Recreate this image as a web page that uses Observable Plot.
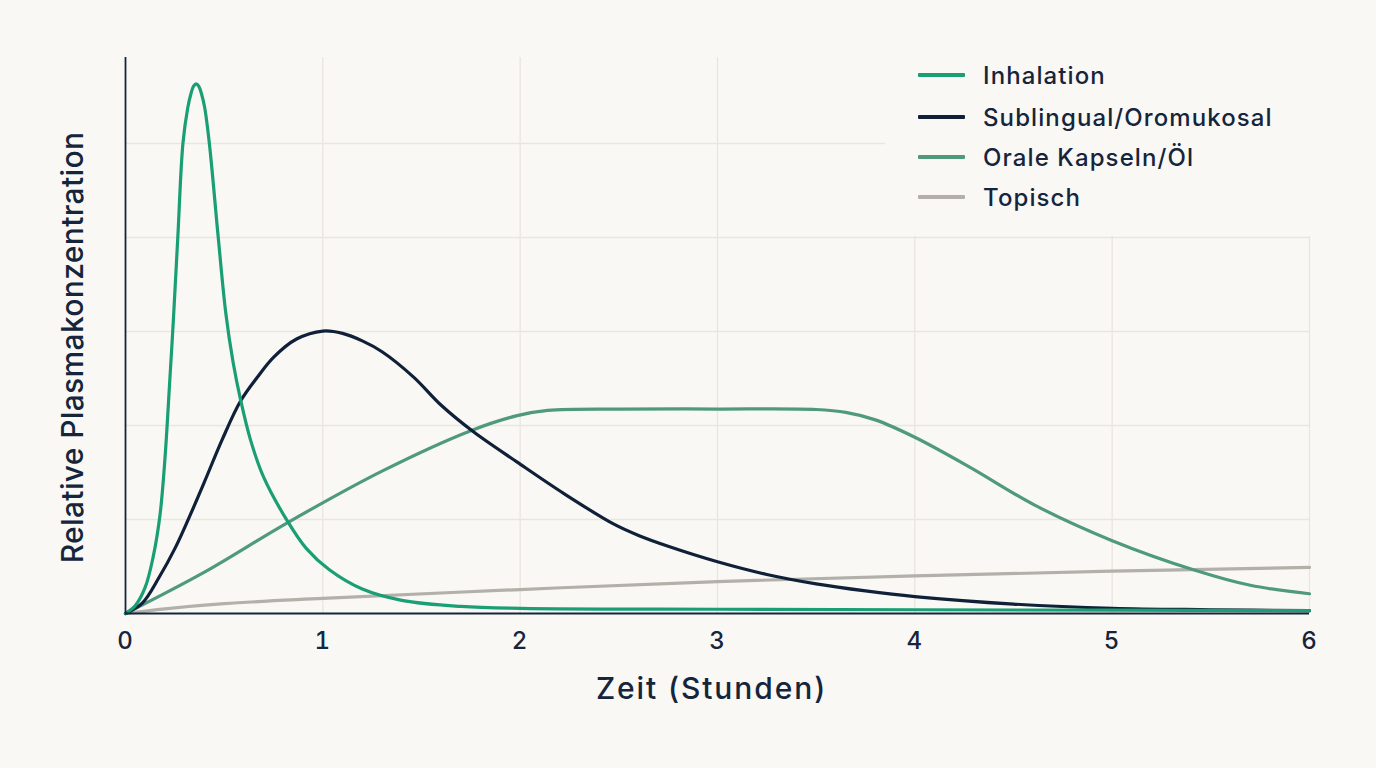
<!DOCTYPE html>
<html>
<head>
<meta charset="utf-8">
<script src="https://cdn.jsdelivr.net/npm/d3@7"></script>
<script src="https://cdn.jsdelivr.net/npm/@observablehq/plot@0.6"></script>
<style>
  html, body { margin: 0; padding: 0; background: #f9f8f5; }
  #wrap { position: relative; width: 1376px; height: 768px; font-family: Inter, "Noto Sans", sans-serif; }
  #legend { position: absolute; left: 885px; top: 34px; width: 450px; height: 202px; background: #f9f8f5; }
  .item { position: absolute; left: 33px; height: 30px; display: flex; align-items: center; }
  .sw { width: 47px; height: 3.5px; margin-right: 18px; border-radius: 1px; }
  .lab { font-size: 24px; letter-spacing: 1.1px; font-weight: 500; color: #15253b; white-space: nowrap; }
</style>
</head>
<body>
<div id="wrap"><div id="legend"></div></div>
<script>
// Series names and colours
const seriesNames = ["Inhalation", "Sublingual/Oromukosal", "Orale Kapseln/Öl", "Topisch"];
const seriesColors = ["#1a9e74", "#0f2038", "#4f9a7c", "#b3afa9"];

// Time (hours) and relative concentration
const inhalationT = [0, 0.05, 0.1, 0.14, 0.175, 0.2, 0.225, 0.242, 0.265, 0.291, 0.316, 0.333, 0.345, 0.358, 0.371, 0.385, 0.401, 0.425, 0.47, 0.508, 0.545, 0.583, 0.633, 0.7, 0.82, 0.917, 1.033, 1.2, 1.4, 1.7, 2.0, 3.0, 4.0, 5.0, 6.0];
const inhalationV = [0, 0.017, 0.056, 0.12, 0.21, 0.33, 0.5, 0.62, 0.8, 1.0, 1.077, 1.108, 1.122, 1.127, 1.122, 1.106, 1.077, 1.0, 0.8, 0.64, 0.535, 0.455, 0.37, 0.29, 0.197, 0.138, 0.093, 0.052, 0.028, 0.015, 0.011, 0.009, 0.008, 0.007, 0.006];

const sublingualT = [0, 0.085, 0.169, 0.25, 0.321, 0.4, 0.49, 0.583, 0.667, 0.75, 0.867, 1.0, 1.1, 1.2, 1.3, 1.46, 1.6, 1.765, 1.985, 2.222, 2.475, 2.6, 2.75, 3.0, 3.25, 3.5, 3.75, 4.0, 4.5, 5.0, 5.5, 6.0];
const sublingualV = [0, 0.022, 0.076, 0.138, 0.203, 0.28, 0.37, 0.452, 0.502, 0.545, 0.584, 0.601, 0.596, 0.58, 0.557, 0.503, 0.443, 0.386, 0.322, 0.255, 0.19, 0.166, 0.143, 0.11, 0.083, 0.063, 0.048, 0.036, 0.02, 0.011, 0.008, 0.006];

const oralT = [0, 0.4, 0.82, 1.3, 1.75, 1.985, 2.14, 2.5, 3.0, 3.5, 3.65, 3.8, 4.0, 4.28, 4.61, 5.0, 5.42, 5.7, 6.0];
const oralV = [0, 0.088, 0.193, 0.303, 0.389, 0.421, 0.432, 0.435, 0.435, 0.434, 0.428, 0.412, 0.375, 0.311, 0.23, 0.155, 0.092, 0.06, 0.042];

const topischT = [0, 0.2, 0.5, 1.0, 2.0, 3.0, 4.0, 5.0, 6.0];
const topischV = [0, 0.01, 0.021, 0.032, 0.051, 0.068, 0.08, 0.09, 0.098];

const xTicks = [0, 1, 2, 3, 4, 5, 6];
const xGrid = [1, 2, 3, 4, 5, 6];
const yGrid = [0.2, 0.4, 0.6, 0.8, 1.0];
const xLabel = "Zeit (Stunden)";
const yLabel = "Relative Plasmakonzentration";

const seriesT = [inhalationT, sublingualT, oralT, topischT];
const seriesV = [inhalationV, sublingualV, oralV, topischV];
const rows = [];
seriesNames.forEach((name, i) => {
  seriesT[i].forEach((t, j) => rows.push({series: name, t, v: seriesV[i][j]}));
});

const ink = "#15253b";
const font = "Inter, 'Noto Sans', sans-serif";
const drawOrder = ["Topisch", "Orale Kapseln/Öl", "Sublingual/Oromukosal", "Inhalation"];

const chart = Plot.plot({
  width: 1376,
  height: 768,
  marginLeft: 125,
  marginRight: 67,
  marginTop: 57,
  marginBottom: 155,
  style: {background: "#f9f8f5", fontFamily: font, color: ink, overflow: "visible"},
  x: {domain: [0, 6]},
  y: {domain: [0, 1.183]},
  color: {domain: seriesNames, range: seriesColors},
  marks: [
    Plot.gridX(xGrid, {stroke: "#e9e6df", strokeOpacity: 1, strokeWidth: 1.3}),
    Plot.gridY(yGrid, {stroke: "#e9e6df", strokeOpacity: 1, strokeWidth: 1.3}),
    Plot.axisY({ticks: [], label: null}),
    Plot.axisX(xTicks, {tickSize: 0, tickPadding: 18, fontSize: 24, fontWeight: 500, label: null, fill: ink, tickFormat: d => String(d)}),
    ...drawOrder.map(name =>
      Plot.line(rows.filter(d => d.series === name), {x: "t", y: "v", stroke: "series", strokeWidth: 3.2, curve: "catmull-rom"})
    ),
    Plot.ruleX([0], {stroke: ink, strokeWidth: 1.8}),
    Plot.ruleY([0], {stroke: ink, strokeWidth: 1.8}),
    Plot.text([xLabel], {frameAnchor: "bottom", dy: 76, dx: -6, fontSize: 30, fontWeight: 500, fill: ink, lineAnchor: "middle", textAnchor: "middle", className: "xtitle"}),
    Plot.text([yLabel], {frameAnchor: "left", dx: -52, dy: 12, rotate: -90, fontSize: 30, fontWeight: 500, fill: ink, lineAnchor: "middle", textAnchor: "middle", className: "ytitle"})
  ]
});

const wrap = document.getElementById("wrap");
wrap.insertBefore(chart, wrap.firstChild);
chart.querySelectorAll("text").forEach(t => { t.style.letterSpacing = "1.2px"; });
chart.querySelectorAll(".xtitle text").forEach(t => { t.style.letterSpacing = "1.9px"; });
chart.querySelectorAll(".ytitle text").forEach(t => { t.style.letterSpacing = "0.35px"; });

const legend = document.getElementById("legend");
const rowTops = [41, 83, 123, 163];
seriesNames.forEach((name, i) => {
  const it = document.createElement("div");
  it.className = "item";
  it.style.top = (rowTops[i] - 15) + "px";
  const sw = document.createElement("div");
  sw.className = "sw";
  sw.style.background = seriesColors[i];
  const lab = document.createElement("span");
  lab.className = "lab";
  lab.textContent = name;
  it.appendChild(sw);
  it.appendChild(lab);
  legend.appendChild(it);
});
</script>
</body>
</html>
